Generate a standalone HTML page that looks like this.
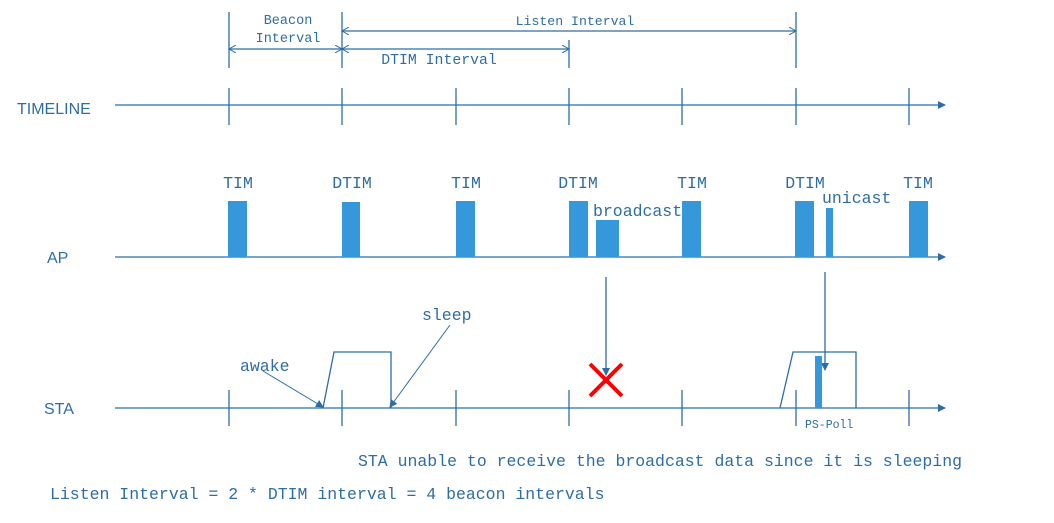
<!DOCTYPE html>
<html><head><style>body{margin:0;background:#fff}</style></head><body>
<svg width="1054" height="518" xmlns="http://www.w3.org/2000/svg" font-family="Liberation Mono, monospace" fill="#2e6da4">
<defs><marker id="a" markerWidth="8" markerHeight="8" refX="7" refY="4" orient="auto" markerUnits="userSpaceOnUse"><path d="M0,0 L8,4 L0,8 z" fill="#2e6da4"/></marker>
<marker id="o" markerWidth="8" markerHeight="8" refX="7" refY="4" orient="auto-start-reverse" markerUnits="userSpaceOnUse"><path d="M0,0 L7,4 L0,8" fill="none" stroke="#2e6da4"/></marker></defs>
<g stroke="#2e6da4" stroke-width="1.3" fill="none">
<line x1="229" y1="12" x2="229" y2="68"/><line x1="342" y1="12" x2="342" y2="68"/><line x1="569" y1="40" x2="569" y2="68"/><line x1="796" y1="12" x2="796" y2="68"/>
<line x1="342" y1="31" x2="796" y2="31" marker-start="url(#o)" marker-end="url(#o)"/>
<line x1="229" y1="49" x2="342" y2="49" marker-start="url(#o)" marker-end="url(#o)"/>
<line x1="342" y1="49" x2="569" y2="49" marker-start="url(#o)" marker-end="url(#o)"/>
<line x1="115" y1="105" x2="945" y2="105" marker-end="url(#a)"/>
<line x1="115" y1="257" x2="945" y2="257" marker-end="url(#a)"/>
<line x1="115" y1="408" x2="945" y2="408" marker-end="url(#a)"/>
<g>
<path d="M229 88V125M342 88V125M456 88V125M569 88V125M682 88V125M796 88V125M909 88V125"/>
<path d="M229 390V426M342 390V426M456 390V426M569 390V426M682 390V426M796 390V426M909 390V426"/>
</g>
<path d="M323 408L334 352H391V408"/>
<path d="M780 408L793 352H856V408"/>
<line x1="263" y1="371" x2="323" y2="407" stroke-width="1" marker-end="url(#a)"/>
<line x1="450" y1="325" x2="390" y2="407" stroke-width="1" marker-end="url(#a)"/>
<line x1="606" y1="277" x2="606" y2="375" marker-end="url(#a)"/>
<line x1="825" y1="272" x2="825" y2="370" marker-end="url(#a)"/>
</g>
<g fill="#3498db">
<rect x="228" y="201" width="19" height="56"/><rect x="342" y="202" width="18" height="55"/><rect x="456" y="201" width="19" height="56"/><rect x="569" y="201" width="19" height="56"/><rect x="596" y="220" width="23" height="37"/><rect x="682" y="201" width="19" height="56"/><rect x="795" y="201" width="19" height="56"/><rect x="826" y="208" width="7" height="49"/><rect x="909" y="201" width="19" height="56"/>
<rect x="815" y="356" width="7" height="52"/>
</g>
<path d="M590 364L622 396M622 364L590 396" stroke="#ff0000" stroke-width="4"/>
<g font-family="Liberation Sans, sans-serif" font-size="16">
<text x="17" y="114">TIMELINE</text><text x="47" y="263">AP</text><text x="44" y="414">STA</text></g>
<g font-size="16.5">
<text x="288" y="24" text-anchor="middle" font-size="13.5">Beacon</text><text x="288" y="42" text-anchor="middle" font-size="13.5">Interval</text>
<text x="575" y="25" text-anchor="middle" font-size="13.2">Listen Interval</text>
<text x="439" y="64" text-anchor="middle" font-size="14.8">DTIM Interval</text>
<text x="238" y="188" text-anchor="middle">TIM</text><text x="352" y="188" text-anchor="middle">DTIM</text><text x="466" y="188" text-anchor="middle">TIM</text><text x="578" y="188" text-anchor="middle">DTIM</text><text x="692" y="188" text-anchor="middle">TIM</text><text x="805" y="188" text-anchor="middle">DTIM</text><text x="918" y="188" text-anchor="middle">TIM</text>
<text x="593" y="216">broadcast</text><text x="822" y="203">unicast</text>
<text x="240" y="371">awake</text><text x="422" y="320">sleep</text>
<text x="358" y="466">STA unable to receive the broadcast data since it is sleeping</text>
<text x="50" y="499">Listen Interval = 2 * DTIM interval = 4 beacon intervals</text>
<text x="805" y="428" font-size="11.5">PS-Poll</text>
</g>
</svg>
</body></html>
